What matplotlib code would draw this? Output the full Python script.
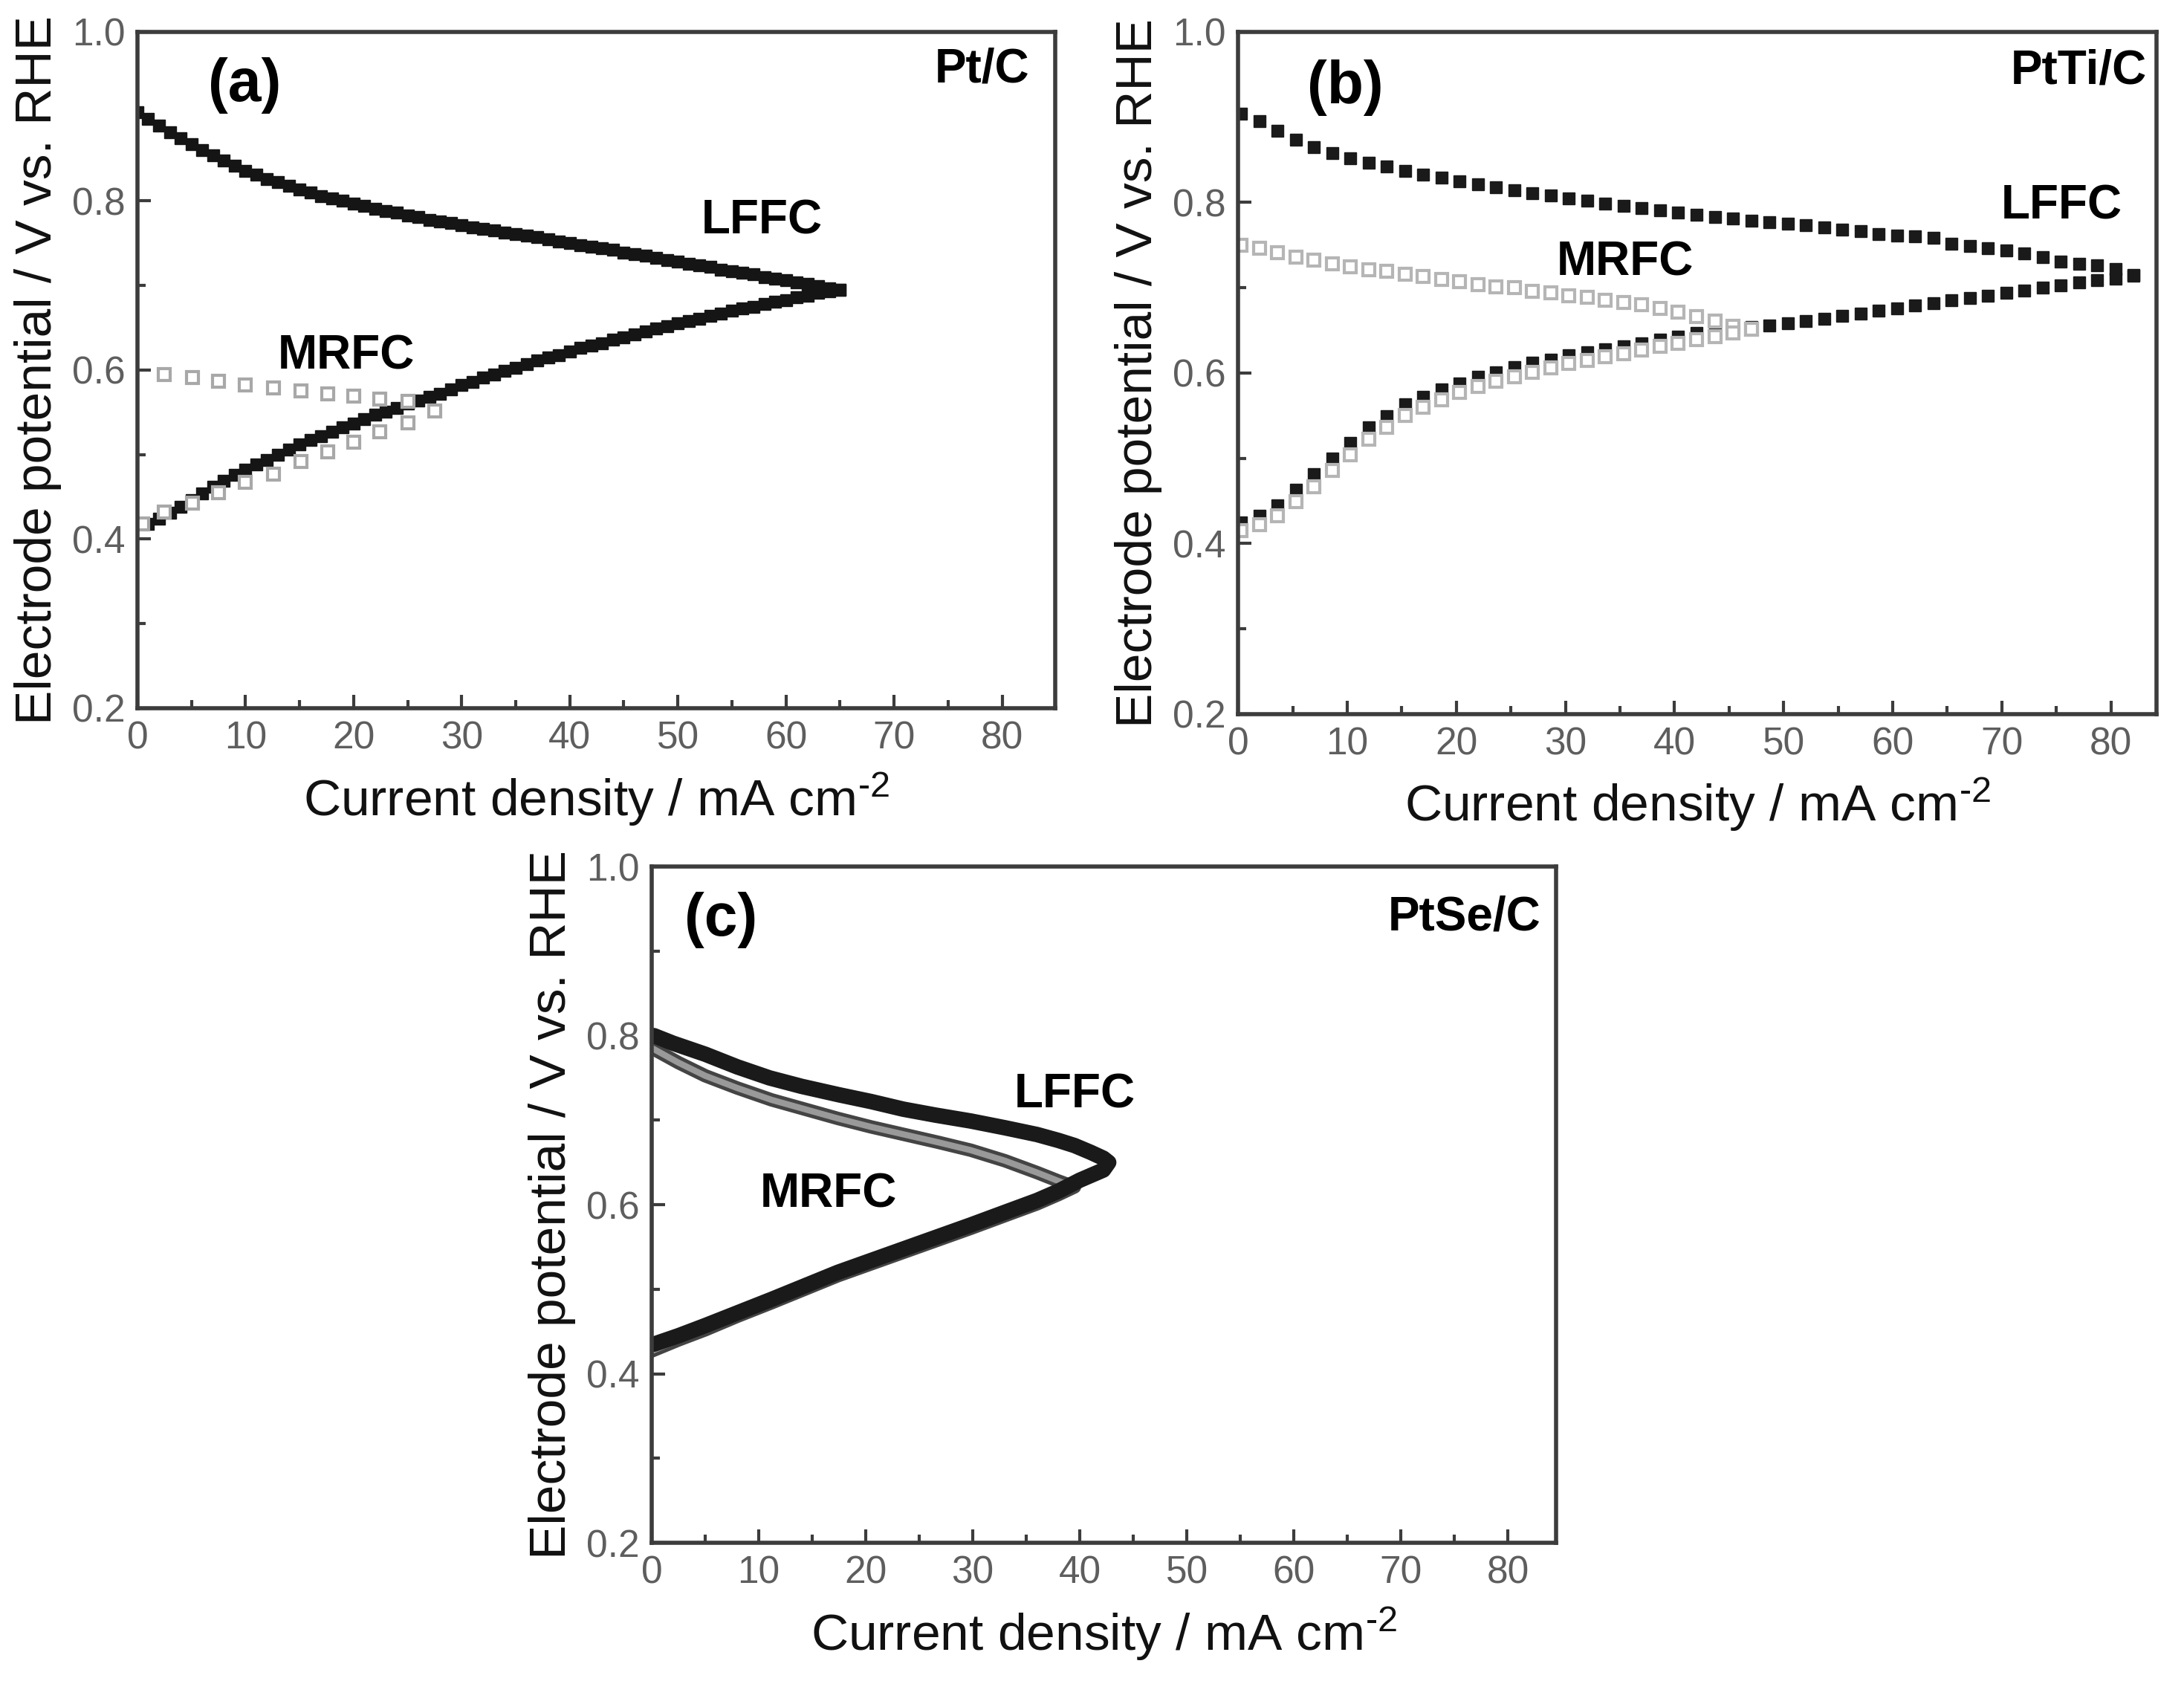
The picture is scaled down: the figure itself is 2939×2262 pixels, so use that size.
import matplotlib
matplotlib.use("Agg")
import matplotlib.pyplot as plt
from matplotlib.ticker import MultipleLocator

plt.rcParams['font.family'] = ['Liberation Sans', 'DejaVu Sans']
plt.rcParams['mathtext.fontset'] = 'custom'
plt.rcParams['mathtext.rm'] = 'Liberation Sans'
plt.rcParams['mathtext.default'] = 'regular'

# ---- panel (a) Pt/C ----
a_j_lffc_up = [0, 1, 2, 3, 4, 5, 6, 7, 8, 9, 10, 11, 12, 13, 14, 15, 16, 17, 18, 19,
               20, 21, 22, 23, 24, 25, 26, 27, 28, 29, 30, 31, 32, 33, 34, 35, 36, 37, 38, 39,
               40, 41, 42, 43, 44, 45, 46, 47, 48, 49, 50, 51, 52, 53, 54, 55, 56, 57, 58, 59,
               60, 61, 62, 63, 64, 65]
a_v_lffc_up = [0.905, 0.897, 0.889, 0.881, 0.874, 0.867, 0.860, 0.854, 0.848, 0.842,
               0.836, 0.831, 0.826, 0.822, 0.818, 0.814, 0.810, 0.806, 0.803, 0.800,
               0.797, 0.794, 0.791, 0.788, 0.786, 0.783, 0.781, 0.778, 0.776, 0.774,
               0.771, 0.769, 0.767, 0.765, 0.763, 0.761, 0.759, 0.757, 0.755, 0.752,
               0.750, 0.748, 0.746, 0.744, 0.742, 0.739, 0.737, 0.735, 0.733, 0.730,
               0.728, 0.726, 0.724, 0.722, 0.719, 0.717, 0.715, 0.713, 0.710, 0.708,
               0.706, 0.704, 0.702, 0.699, 0.697, 0.695]
a_j_lffc_dn = [1, 2, 3, 4, 5, 6, 7, 8, 9, 10, 11, 12, 13, 14, 15, 16, 17, 18, 19,
               20, 21, 22, 23, 24, 25, 26, 27, 28, 29, 30, 31, 32, 33, 34, 35, 36, 37, 38, 39,
               40, 41, 42, 43, 44, 45, 46, 47, 48, 49, 50, 51, 52, 53, 54, 55, 56, 57, 58, 59,
               60, 61, 62, 63, 64, 65]
a_v_lffc_dn = [0.418, 0.424, 0.431, 0.438, 0.446, 0.454, 0.462, 0.469, 0.476,
               0.482, 0.488, 0.494, 0.500, 0.506, 0.512, 0.517, 0.522, 0.527, 0.532,
               0.537, 0.542, 0.547, 0.551, 0.555, 0.560, 0.564, 0.568, 0.572, 0.577,
               0.582, 0.586, 0.591, 0.595, 0.599, 0.603, 0.607, 0.611, 0.615, 0.618,
               0.622, 0.626, 0.629, 0.632, 0.636, 0.639, 0.642, 0.646, 0.649, 0.652,
               0.655, 0.658, 0.661, 0.664, 0.667, 0.670, 0.673, 0.675, 0.678, 0.681,
               0.683, 0.686, 0.688, 0.691, 0.693, 0.695]
a_j_mrfc_up = [2.5, 5.1, 7.5, 10.0, 12.6, 15.1, 17.6, 20.0, 22.4, 25.0, 27.5]
a_v_mrfc_up = [0.595, 0.591, 0.587, 0.582, 0.579, 0.575, 0.572, 0.569, 0.566, 0.563, 0.5515]
a_j_mrfc_dn = [0.5, 2.5, 5.1, 7.5, 10.0, 12.6, 15.1, 17.6, 20.0, 22.4, 25.0]
a_v_mrfc_dn = [0.418, 0.432, 0.443, 0.455, 0.467, 0.477, 0.4915, 0.503, 0.515, 0.527, 0.538]

# ---- panel (b) PtTi/C ----
b_j = [0.27, 1.94, 3.61, 5.28, 6.95, 8.62, 10.29, 11.96, 13.63, 15.30,
       16.97, 18.64, 20.31, 21.98, 23.65, 25.32, 26.99, 28.66, 30.33, 32.00,
       33.67, 35.34, 37.01, 38.68, 40.35, 42.02, 43.69, 45.36, 47.03, 48.70,
       50.37, 52.04, 53.71, 55.38, 57.05, 58.72, 60.39, 62.06, 63.73, 65.40,
       67.07, 68.74, 70.41, 72.08, 73.75, 75.42, 77.09, 78.76, 80.43, 82.10]
b_v_lffc_up = [0.904, 0.895, 0.884, 0.874, 0.865, 0.858, 0.852, 0.847, 0.842, 0.837,
               0.833, 0.829, 0.825, 0.8215, 0.818, 0.814, 0.811, 0.808, 0.805, 0.802,
               0.799, 0.796, 0.7935, 0.791, 0.788, 0.7857, 0.783, 0.781, 0.779, 0.777,
               0.775, 0.773, 0.771, 0.768, 0.766, 0.763, 0.761, 0.760, 0.759, 0.752,
               0.749, 0.746, 0.744, 0.740, 0.736, 0.731, 0.728, 0.726, 0.722, 0.715]
b_v_lffc_dn = [0.425, 0.433, 0.445, 0.463, 0.481, 0.500, 0.518, 0.536, 0.549, 0.563,
               0.572, 0.581, 0.588, 0.5955, 0.601, 0.6065, 0.612, 0.6155, 0.621, 0.624,
               0.628, 0.6315, 0.635, 0.639, 0.643, 0.647, 0.650, 0.652, 0.654, 0.656,
               0.658, 0.661, 0.664, 0.667, 0.670, 0.673, 0.676, 0.679, 0.682, 0.685,
               0.688, 0.691, 0.694, 0.697, 0.700, 0.703, 0.706, 0.709, 0.711, 0.714]
b_v_mrfc_up = [0.750, 0.746, 0.741, 0.736, 0.732, 0.728, 0.725, 0.721, 0.719, 0.716,
               0.713, 0.710, 0.707, 0.704, 0.701, 0.700, 0.696, 0.694, 0.691, 0.689,
               0.685, 0.683, 0.680, 0.676, 0.671, 0.666, 0.661, 0.655, 0.651]
b_v_mrfc_dn = [0.415, 0.422, 0.433, 0.449, 0.467, 0.486, 0.504, 0.522, 0.536, 0.550,
               0.560, 0.569, 0.577, 0.584, 0.590, 0.596, 0.601, 0.606, 0.611, 0.615,
               0.619, 0.623, 0.627, 0.631, 0.635, 0.639, 0.643, 0.647, 0.651]

# ---- panel (c) PtSe/C ----
c_j_lffc = [0.2, 2.0, 5.0, 8.0, 11.0, 14.0, 17.5, 20.5, 23.5, 26.5, 29.8, 33.0, 36.0,
            38.0, 39.5, 41.0, 42.2, 42.7,
            42.2, 40.0, 38.0, 36.0, 33.0, 29.8, 26.7, 23.6, 20.5, 17.4, 14.3, 11.2,
            8.0, 5.0, 2.5, 0.2]
c_v_lffc = [0.800, 0.791, 0.778, 0.763, 0.750, 0.740, 0.730, 0.722, 0.713, 0.706,
            0.699, 0.691, 0.683, 0.676, 0.670, 0.662, 0.655, 0.650,
            0.641, 0.629, 0.616, 0.605, 0.591, 0.576, 0.562, 0.548, 0.534, 0.520,
            0.504, 0.488, 0.472, 0.457, 0.445, 0.435]
c_j_mrfc = [0.2, 2.5, 5.0, 8.0, 11.2, 14.3, 17.4, 20.5, 23.6, 26.7, 29.8, 33.0, 36.0,
            38.0, 39.5,
            38.0, 36.0, 33.0, 29.8, 26.7, 23.6, 20.5, 17.4, 14.3, 11.2, 8.0, 5.0, 2.5, 0.2]
c_v_mrfc = [0.784, 0.768, 0.7525, 0.738, 0.724, 0.713, 0.702, 0.692, 0.683, 0.674,
            0.6645, 0.652, 0.638, 0.628, 0.621,
            0.612, 0.601, 0.587, 0.572, 0.558, 0.544, 0.530, 0.516, 0.500, 0.484,
            0.468, 0.452, 0.440, 0.428]

x_ticks = [0, 10, 20, 30, 40, 50, 60, 70, 80]
y_ticks = [0.2, 0.4, 0.6, 0.8, 1.0]

fig = plt.figure(figsize=(29.39, 22.62), dpi=100)
ax_a = fig.add_axes([0.0629, 0.5787, 0.4202, 0.4023])
ax_b = fig.add_axes([0.5669, 0.5752, 0.4206, 0.4058])
ax_c = fig.add_axes([0.2984, 0.0822, 0.4141, 0.4023])

spine_col = '#3c3c3c'
xlab = 'Current density / mA cm$^{\u20102}$'


def style(ax, xmax):
    ax.set_xlim(0, xmax)
    ax.set_ylim(0.2, 1.0)
    ax.set_xticks(x_ticks)
    ax.set_yticks(y_ticks)
    ax.set_yticklabels(['0.2', '0.4', '0.6', '0.8', '1.0'])
    ax.xaxis.set_minor_locator(MultipleLocator(5))
    ax.yaxis.set_minor_locator(MultipleLocator(0.1))
    ax.tick_params(which='both', direction='in', top=False, right=False,
                   color=spine_col, width=3, labelsize=37, labelcolor='#5e5e5e')
    ax.tick_params(which='major', length=13, pad=12)
    ax.tick_params(which='minor', length=8)
    for s in ax.spines.values():
        s.set_color(spine_col)
        s.set_linewidth(4)
    ax.set_xlabel(xlab, fontsize=50, labelpad=13, color='#111111')
    ax.set_ylabel('Electrode potential / V vs. RHE', fontsize=50, labelpad=10, color='#111111')


# (a)
ax_a.plot(a_j_lffc_up, a_v_lffc_up, 's', ms=11.5, color='#151515', mec='#151515')
ax_a.plot(a_j_lffc_dn, a_v_lffc_dn, 's', ms=11.5, color='#151515', mec='#151515')
ax_a.plot(a_j_mrfc_up, a_v_mrfc_up, 's', ms=12, mfc='white', mec='#a8a8a8', mew=3)
ax_a.plot(a_j_mrfc_dn, a_v_mrfc_dn, 's', ms=12, mfc='white', mec='#a8a8a8', mew=3)
style(ax_a, 84.9)
ax_a.text(9.9, 0.937, '(a)', fontsize=58, fontweight='bold', ha='center', va='center')
ax_a.text(82.5, 0.956, 'Pt/C', fontsize=46, fontweight='bold', ha='right', va='center')
ax_a.text(57.8, 0.776, 'LFFC', fontsize=46, fontweight='bold', ha='center', va='center')
ax_a.text(19.3, 0.616, 'MRFC', fontsize=46, fontweight='bold', ha='center', va='center')

# (b)
ax_b.plot(b_j, b_v_lffc_up, 's', ms=11, color='#1a1a1a', mec='#1a1a1a')
ax_b.plot(b_j, b_v_lffc_dn, 's', ms=11, color='#1a1a1a', mec='#1a1a1a')
ax_b.plot(b_j[:29], b_v_mrfc_up, 's', ms=11, mfc='white', mec='#b5b5b5', mew=3)
ax_b.plot(b_j[:29], b_v_mrfc_dn, 's', ms=11, mfc='white', mec='#b5b5b5', mew=3)
style(ax_b, 84.2)
ax_b.text(9.8, 0.935, '(b)', fontsize=58, fontweight='bold', ha='center', va='center')
ax_b.text(83.3, 0.954, 'PtTi/C', fontsize=46, fontweight='bold', ha='right', va='center')
ax_b.text(75.5, 0.796, 'LFFC', fontsize=46, fontweight='bold', ha='center', va='center')
ax_b.text(35.5, 0.729, 'MRFC', fontsize=46, fontweight='bold', ha='center', va='center')

# (c)
ax_c.plot(c_j_mrfc, c_v_mrfc, '-', lw=13, color='#444444', solid_joinstyle='round')
ax_c.plot(c_j_mrfc, c_v_mrfc, '-', lw=6, color='#999999', solid_joinstyle='round')
ax_c.plot(c_j_lffc, c_v_lffc, '-', lw=15, color='#1a1a1a', solid_joinstyle='round',
          solid_capstyle='round')
style(ax_c, 84.5)
ax_c.text(6.5, 0.937, '(c)', fontsize=58, fontweight='bold', ha='center', va='center')
ax_c.text(83.1, 0.940, 'PtSe/C', fontsize=46, fontweight='bold', ha='right', va='center')
ax_c.text(39.5, 0.730, 'LFFC', fontsize=46, fontweight='bold', ha='center', va='center')
ax_c.text(16.5, 0.612, 'MRFC', fontsize=46, fontweight='bold', ha='center', va='center')

fig.savefig('out.png', dpi=100, facecolor='white')
